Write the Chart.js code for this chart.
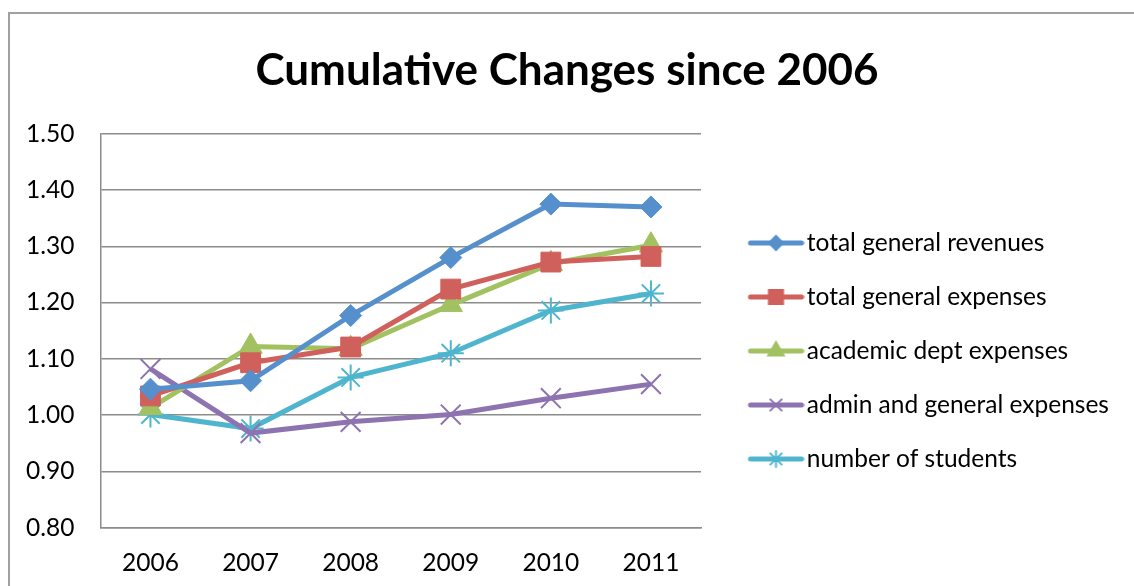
<!DOCTYPE html>
<html>
<head>
<meta charset="utf-8">
<script src="https://cdn.jsdelivr.net/npm/chart.js@4.4.0/dist/chart.umd.min.js"></script>
<style>
    html, body { margin: 0; padding: 0; background: #fff; }
    #frame {
        position: absolute; left: 8px; top: 12px; width: 1200px; height: 700px;
        border-left: 2px solid #a0a0a0; border-top: 2px solid #a0a0a0;
    }
    #wrap { position: absolute; left: 0; top: 0; width: 1134px; height: 586px; }
</style>
</head>
<body>
<div id="frame"></div>
<div id="wrap"><canvas id="cambiosChart"></canvas></div>
<script>
// Datos
const years = ['2006', '2007', '2008', '2009', '2010', '2011'];
const totalRevenues = [1.046, 1.061, 1.177, 1.280, 1.375, 1.370];
const totalExpenses = [1.034, 1.093, 1.121, 1.224, 1.272, 1.282];
const academicExpenses = [1.013, 1.122, 1.118, 1.196, 1.269, 1.302];
const adminExpenses = [1.082, 0.968, 0.988, 1.001, 1.030, 1.055];
const numStudents = [1.001, 0.976, 1.067, 1.110, 1.186, 1.216];
const seriesNames = [
    'total general revenues',
    'total general expenses',
    'academic dept expenses',
    'admin and general expenses',
    'number of students'
];
const yMin = 0.8;
const yMax = 1.5;
const yStep = 0.1;

const colors = ['#5690cc', '#d0605b', '#a2c262', '#8d73b0', '#4fb5cf'];
const markers = ['rectRot', 'rect', 'triangle', 'crossRot', 'star'];
const markerSizes = [11, 14, 13.5, 14, 13];
const legendSizes = [7, 10, 9, 8, 8];

Chart.defaults.font.family = 'Lato, "Open Sans", sans-serif';
Chart.defaults.font.size = 24.5;
Chart.defaults.color = '#000';

// Icono de leyenda: línea con marcador (lienzo más ancho para desplazar la línea)
function legendIcon(color, style, radius) {
    const c = document.createElement('canvas');
    c.width = 84;
    c.height = 26;
    const ctx = c.getContext('2d');
    ctx.strokeStyle = color;
    ctx.fillStyle = color;
    ctx.lineWidth = 5;
    ctx.lineCap = 'round';
    ctx.beginPath();
    ctx.moveTo(30, 13);
    ctx.lineTo(81, 13);
    ctx.stroke();
    ctx.lineWidth = 2;
    Chart.helpers.drawPoint(ctx, { pointStyle: style, radius: radius, borderWidth: 2 }, 55.5, 13);
    return c;
}
const icons = colors.map((c, i) => legendIcon(c, markers[i], legendSizes[i]));

function makeDataset(i, data) {
    return {
        label: seriesNames[i],
        data: data,
        borderColor: colors[i],
        backgroundColor: colors[i],
        borderWidth: 5,
        pointStyle: markers[i],
        pointRadius: markerSizes[i],
        pointHoverRadius: markerSizes[i],
        pointBorderWidth: (i >= 3) ? 2 : 1,
        pointBorderColor: colors[i],
        pointBackgroundColor: colors[i],
        tension: 0
    };
}

// Ancho fijo de la leyenda y desplazamiento vertical
const legendPlacement = {
    id: 'legendPlacement',
    beforeLayout(chart) {
        const lg = chart.legend;
        if (lg && !lg._fixedWidth) {
            const fit = lg.fit;
            lg.fit = function () {
                fit.call(this);
                this.width = 433;
            };
            lg._fixedWidth = true;
        }
    },
    afterLayout(chart) {
        const lg = chart.legend;
        if (lg) {
            lg.top += 62;
            lg.bottom += 62;
        }
    }
};

const ctx = document.getElementById('cambiosChart').getContext('2d');
new Chart(ctx, {
    type: 'line',
    data: {
        labels: years,
        datasets: [
            makeDataset(0, totalRevenues),
            makeDataset(1, totalExpenses),
            makeDataset(2, academicExpenses),
            makeDataset(3, adminExpenses),
            makeDataset(4, numStudents)
        ]
    },
    options: {
        responsive: true,
        maintainAspectRatio: false,
        animation: false,
        layout: {
            padding: { left: 0, right: 0, bottom: 8 }
        },
        plugins: {
            title: {
                display: true,
                text: 'Cumulative Changes since 2006',
                font: { size: 44, weight: 'bold' },
                padding: { top: 44, bottom: 37 }
            },
            legend: {
                position: 'right',
                labels: {
                    usePointStyle: true,
                    pointStyleWidth: 64,
                    padding: 29.5,
                    generateLabels(chart) {
                        const items = Chart.defaults.plugins.legend.labels.generateLabels(chart);
                        items.forEach((item, i) => { item.pointStyle = icons[i]; });
                        return items;
                    }
                }
            },
            tooltip: { enabled: false }
        },
        scales: {
            x: {
                offset: true,
                grid: { display: false, drawTicks: true, tickLength: 21 },
                border: { display: true, color: '#8c8c8c', width: 1.5 },
                ticks: { padding: 0 }
            },
            y: {
                min: yMin,
                max: yMax,
                grid: { color: '#8c8c8c', lineWidth: 1.5, drawTicks: false },
                border: { display: true, color: '#8c8c8c', width: 1.5 },
                ticks: {
                    stepSize: yStep,
                    padding: 26,
                    callback: value => value.toFixed(2)
                }
            }
        }
    },
    plugins: [legendPlacement]
});
</script>
</body>
</html>
